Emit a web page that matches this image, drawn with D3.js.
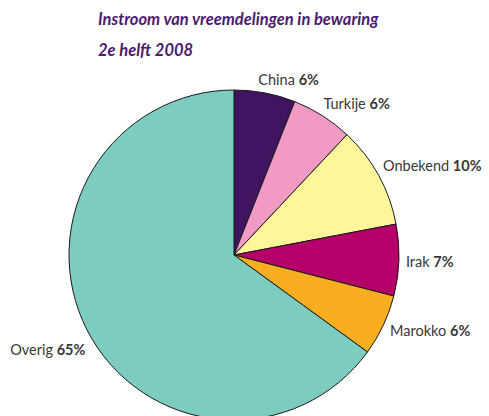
<!DOCTYPE html>
<html>
<head>
<meta charset="utf-8">
<script src="https://cdn.jsdelivr.net/npm/d3@7"></script>
<style>
  html, body { margin: 0; padding: 0; background: #fff; overflow: hidden; }
  svg { display: block; }
</style>
</head>
<body>
<svg id="chart" width="489" height="416"></svg>
<script>
// ---- data ----
const categories = ["China", "Turkije", "Onbekend", "Irak", "Marokko", "Overig"];
const values = [6, 6, 10, 7, 6, 65];
const percentLabels = ["6%", "6%", "10%", "7%", "6%", "65%"];
const colors = ["#3f1461", "#f09ac4", "#fff59a", "#b5006a", "#f9ae22", "#7ccdc0"];
const titleLines = ["Instroom van vreemdelingen in bewaring", "2e helft 2008"];

// ---- layout ----
const W = 489, H = 416;
const cx = 234, cy = 255, R = 165;
const labelRadius = 178;
// fine nudges of labels relative to their polar anchor (layout only)
const labelNudge = [[-9, 5], [-6, 4], [-7, 2], [-6, 6], [-5, 5], [10, 19]];

const svg = d3.select("#chart");

svg.selectAll("text.title")
  .data(titleLines)
  .join("text")
  .attr("class", "title")
  .attr("x", 98)
  .attr("y", (d, i) => 25 + i * 31)
  .attr("fill", "#4b1b6e")
  .attr("font-family", "Lato, 'Open Sans', sans-serif")
  .attr("font-style", "italic")
  .attr("font-weight", "bold")
  .attr("font-size", 16.5)
  .text(d => d);

const pie = d3.pie().sort(null).value(d => d.value);
const data = categories.map((c, i) => ({ name: c, value: values[i], pct: percentLabels[i], color: colors[i] }));
const arcs = pie(data);
const arc = d3.arc().innerRadius(0).outerRadius(R);

const g = svg.append("g").attr("transform", `translate(${cx},${cy})`);

g.selectAll("path")
  .data(arcs)
  .join("path")
  .attr("d", arc)
  .attr("fill", d => d.data.color)
  .attr("stroke", "#1a1a1a")
  .attr("stroke-width", 1)
  .attr("stroke-linejoin", "round");

g.selectAll("text.lbl")
  .data(arcs)
  .join("text")
  .attr("class", "lbl")
  .attr("font-family", "Lato, 'Open Sans', sans-serif")
  .attr("font-size", 14.5)
  .attr("fill", "#383838")
  .each(function (d, i) {
    const a = (d.startAngle + d.endAngle) / 2;
    const x = labelRadius * Math.sin(a) + labelNudge[i][0];
    const y = -labelRadius * Math.cos(a) + labelNudge[i][1];
    const left = Math.sin(a) < 0;
    const t = d3.select(this)
      .attr("x", x)
      .attr("y", y)
      .attr("text-anchor", left ? "end" : "start");
    t.append("tspan").text(d.data.name + " ");
    t.append("tspan").attr("font-weight", "bold").text(d.data.pct);
  });
</script>
</body>
</html>
